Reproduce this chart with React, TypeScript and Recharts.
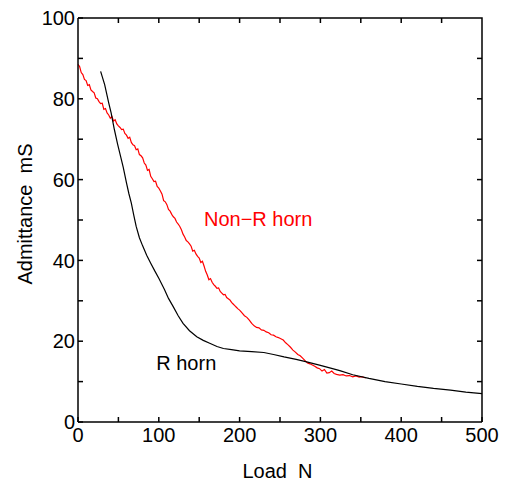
import { LineChart, Line, XAxis, YAxis, ReferenceDot } from 'recharts'

const FONT = '"Liberation Sans", Arial, sans-serif'

// R horn (black), load N -> admittance mS
const rLoad = [28, 33, 38, 41, 45, 49, 53, 56, 60, 63, 66, 69, 72, 76, 80, 85, 90, 95, 100, 107, 112, 118, 124, 130, 138, 147, 155, 163, 172, 180, 190, 200, 215, 230, 242, 255, 270, 283, 300, 315, 324, 340, 360, 380, 400, 420, 440, 461, 480, 500]
const rAdm = [86.8, 83.5, 79, 76.5, 72.4, 68.8, 65.5, 63, 59.2, 56.5, 54.2, 51.2, 48.4, 45.6, 43.6, 41.3, 39.3, 37.4, 35.6, 32.8, 30.6, 28.5, 26.3, 24.4, 22.6, 21.1, 20.2, 19.5, 18.7, 18.2, 17.9, 17.6, 17.4, 17.2, 16.7, 16.1, 15.5, 14.9, 14.0, 13.2, 12.7, 11.7, 10.8, 10.0, 9.4, 8.8, 8.3, 7.9, 7.4, 7.0]

// Non-R horn (red)
const nLoad = [0, 2, 4, 6, 8, 10, 12, 14, 16, 18, 20, 22, 24, 26, 28, 30, 32, 34, 36, 38, 40, 42, 44, 46, 48, 50, 52, 54, 56, 58, 60, 62, 64, 66, 68, 70, 72, 74, 76, 78, 80, 82, 84, 86, 88, 90, 92, 94, 96, 98, 100, 102, 104, 106, 108, 110, 112, 114, 116, 118, 120, 122, 124, 126, 128, 130, 132, 134, 136, 138, 140, 142, 144, 146, 148, 150, 152, 154, 156, 158, 160, 162, 164, 166, 168, 170, 172, 174, 176, 178, 180, 182, 184, 186, 188, 190, 192, 194, 196, 198, 200, 203, 206, 209, 212, 215, 218, 221, 224, 227, 230, 233, 236, 239, 242, 245, 248, 251, 254, 257, 260, 263, 266, 269, 272, 275, 278, 281, 284, 287, 290, 293, 296, 299, 302, 305, 308, 311, 314, 317, 320, 324, 328, 332, 336, 340, 344, 348, 352, 356]
const nAdm = [88.5, 88, 86.5, 86, 84.8, 84.5, 83.3, 83.5, 82.2, 81.8, 81.5, 80.2, 80, 79.3, 78.8, 78.9, 77.4, 77.6, 76.5, 76, 75.2, 75.6, 74.5, 74.8, 73.8, 73.3, 72.9, 72.4, 72.5, 71.4, 71, 70.2, 70.5, 69.2, 68.6, 68.4, 67.4, 67.6, 66.2, 65.9, 65.4, 64.1, 63.6, 62.3, 62.5, 60.8, 60.2, 59.5, 59.6, 58.3, 57.9, 57.2, 56.4, 54.8, 54.5, 53.8, 52.6, 52.2, 51.4, 50.8, 50.4, 49.5, 49, 48.4, 47.6, 46.5, 45.8, 44.9, 44.6, 44.1, 43.5, 42.3, 42.5, 41.6, 41, 40.6, 39.5, 39.8, 38.6, 37.3, 36.4, 35.2, 35.5, 34.6, 34, 33.6, 33.1, 33.2, 32.3, 31.9, 31.5, 31.6, 30.8, 30.5, 30.2, 29.6, 29.2, 28.8, 28.4, 28, 27.7, 27, 26.3, 25.9, 25.2, 24.4, 23.8, 23.4, 23.3, 22.8, 22.7, 22.3, 22.1, 21.6, 21.5, 21.1, 20.9, 20.6, 20.3, 19.6, 19.1, 18.5, 17.8, 17.3, 16.7, 16.4, 15.8, 15.2, 14.6, 14.4, 14.1, 13.8, 13.4, 13.2, 12.6, 13, 12.1, 12.2, 12.6, 12, 11.8, 11.6, 11.7, 11.4, 11.5, 11.2, 11.4, 11.1, 11.2, 10.9]

const xTicks = [0, 50, 100, 150, 200, 250, 300, 350, 400, 450, 500]
const yTicks = [0, 10, 20, 30, 40, 50, 60, 70, 80, 90, 100]

const rData = rLoad.map((load, i) => ({ load, adm: rAdm[i] }))
const nData = nLoad.map((load, i) => ({ load, adm: nAdm[i] }))

const W = 505
const H = 481
const MARGIN = { top: 18, right: 23, left: 0, bottom: 0 }
const Y_AXIS_W = 78
const X_AXIS_H = 59
const X_MAX = 500
const Y_MAX = 100
const PLOT_W = W - MARGIN.left - MARGIN.right - Y_AXIS_W
const PLOT_H = H - MARGIN.top - MARGIN.bottom - X_AXIS_H

const axisStroke = { stroke: '#000', strokeWidth: 1.5 }
const tickStyle = { fill: '#000', fontSize: 20, fontFamily: FONT }

const XTitle = (props: any) => {
  const vb = props.viewBox
  return (
    <text x={vb.x + vb.width / 2 - 2.5} y={vb.y + 56} textAnchor="middle" fontSize={20} fontFamily={FONT} fill="#000">
      {'Load\u00A0\u00A0N'}
    </text>
  )
}

const YTitle = (props: any) => {
  const vb = props.viewBox
  const x = vb.x + 32
  const y = vb.y + vb.height / 2 - 6
  return (
    <text x={x} y={y} transform={`rotate(-90, ${x}, ${y})`} textAnchor="middle" fontSize={20} fontFamily={FONT} fill="#000">
      {'Admittance\u00A0\u00A0mS'}
    </text>
  )
}

// top and right sides of the box with inward ticks, anchored at the plot centre
const Frame = (props: any) => {
  const cx = props.viewBox.x
  const cy = props.viewBox.y
  const left = cx - PLOT_W / 2
  const right = cx + PLOT_W / 2
  const top = cy - PLOT_H / 2
  const bottom = cy + PLOT_H / 2
  return (
    <g stroke="#000" strokeWidth={1.5} fill="none">
      <path d={`M${left},${top}H${right}V${bottom}`} />
      {xTicks.slice(1, -1).map((t) => {
        const x = left + (t / X_MAX) * PLOT_W
        return <line key={'tx' + t} x1={x} y1={top} x2={x} y2={top + 5} />
      })}
      {yTicks.slice(1, -1).map((t) => {
        const y = bottom - (t / Y_MAX) * PLOT_H
        return <line key={'ty' + t} x1={right} y1={y} x2={right - 5} y2={y} />
      })}
    </g>
  )
}

export default function App() {
  return (
    <div style={{ position: 'absolute', left: 0, top: 0, width: W, height: H, background: '#fff' }}>
      <LineChart width={W} height={H} margin={MARGIN}>
        <XAxis
          dataKey="load"
          type="number"
          domain={[0, X_MAX]}
          ticks={xTicks}
          interval={0}
          height={X_AXIS_H}
          tickSize={-5}
          tickMargin={11}
          tickFormatter={(v: number) => (v % 100 === 0 ? String(v) : '')}
          tick={tickStyle}
          axisLine={axisStroke}
          tickLine={axisStroke}
          label={XTitle}
        />
        <YAxis
          type="number"
          domain={[0, Y_MAX]}
          ticks={yTicks}
          interval={0}
          width={Y_AXIS_W}
          tickSize={-5}
          tickMargin={8}
          tickFormatter={(v: number) => (v % 20 === 0 ? String(v) : '')}
          tick={tickStyle}
          axisLine={axisStroke}
          tickLine={axisStroke}
          label={YTitle}
        />
        <Line
          data={nData}
          dataKey="adm"
          type="linear"
          stroke="#ff0000"
          strokeWidth={1.2}
          dot={false}
          isAnimationActive={false}
        />
        <Line
          data={rData}
          dataKey="adm"
          type="linear"
          stroke="#000"
          strokeWidth={1.2}
          dot={false}
          isAnimationActive={false}
        />
        <ReferenceDot x={X_MAX / 2} y={Y_MAX / 2} r={0} stroke="none" label={Frame} />
        <ReferenceDot
          x={223}
          y={50.3}
          r={0}
          stroke="none"
          label={{ value: 'Non\u2212R horn', position: 'center', fill: '#ff0000', fontSize: 20, fontFamily: FONT }}
        />
        <ReferenceDot
          x={134}
          y={14.6}
          r={0}
          stroke="none"
          label={{ value: 'R horn', position: 'center', fill: '#000', fontSize: 20, fontFamily: FONT }}
        />
      </LineChart>
    </div>
  )
}
